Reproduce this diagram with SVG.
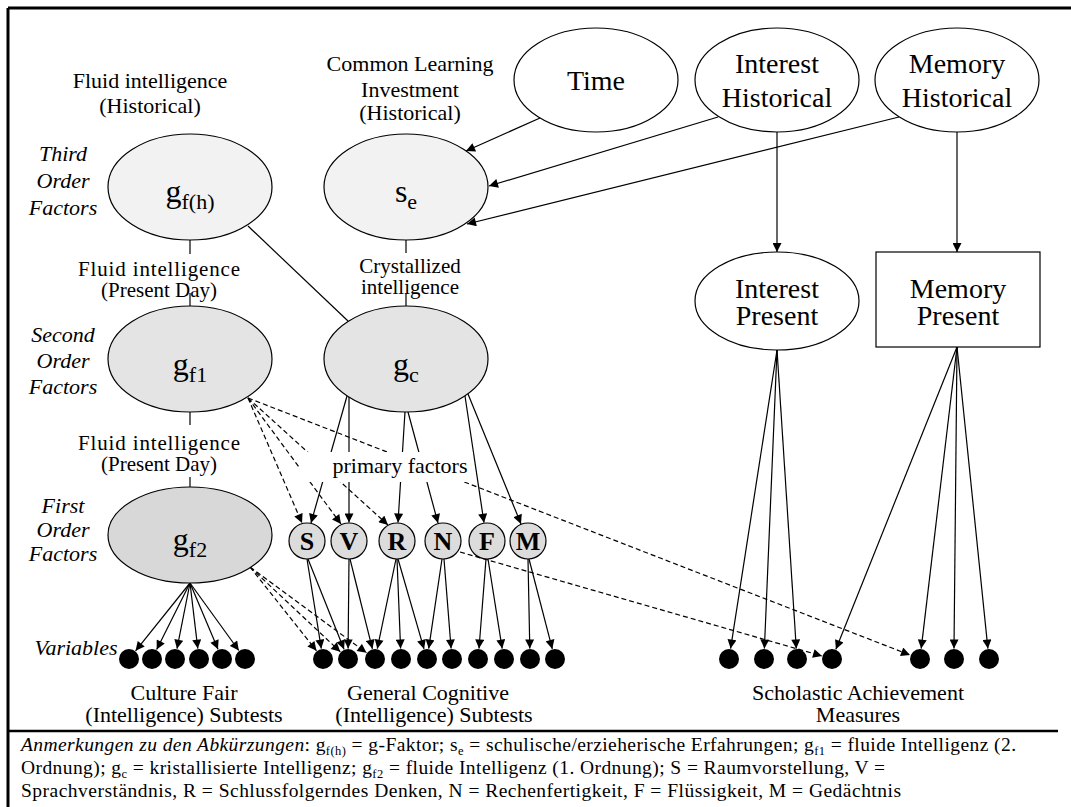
<svg xmlns="http://www.w3.org/2000/svg" width="1071" height="807" viewBox="0 0 1071 807" font-family="'Liberation Serif', 'DejaVu Serif', serif">
  <defs>
    <marker id="arrow" viewBox="0 0 10 10" refX="10" refY="5" markerWidth="10" markerHeight="9" markerUnits="userSpaceOnUse" orient="auto">
      <path d="M0,0 L10,5 L0,10 z" fill="#000"/>
    </marker>
  </defs>
  <style>
    text { font-family: 'Liberation Serif', 'DejaVu Serif', serif; fill: #000; }
    .lbl { font-size: 22px; text-anchor: middle; }
    .cap { font-size: 21px; text-anchor: middle; }
    .big { font-size: 28px; text-anchor: middle; }
    .ord { font-size: 22px; font-style: italic; text-anchor: middle; }
    .sym { text-anchor: middle; }
    .g { font-size: 32px; }
    .sub { font-size: 22px; }
    .pf { font-size: 26px; font-weight: bold; text-anchor: middle; }
    .note { font-size: 19.5px; }
    .nsub { font-size: 12.5px; }
    .node { stroke: #000; stroke-width: 1.2; }
    .light { fill: #f2f2f2; }
    .mid { fill: #e4e4e4; }
    .dark { fill: #d8d8d8; }
    .open { fill: #fff; }
    .circ { fill: #dcdcdc; }
    .dot { fill: #000; }
    .edge { stroke: #000; stroke-width: 1.2; fill: none; }
    .arr { marker-end: url(#arrow); }
    .dash { stroke-dasharray: 5 3; }
    .frame { stroke: #000; fill: none; }
  </style>

  <rect width="1071" height="807" fill="#fff"/>

  <!-- outer frame and footnote rule -->
  <g id="frame">
    <line class="frame" x1="8" y1="8" x2="1071" y2="8" stroke-width="3"/>
    <line class="frame" x1="8" y1="8" x2="8" y2="807" stroke-width="3"/>
    <line class="frame" x1="8" y1="731" x2="1058" y2="731" stroke-width="2.5"/>
  </g>

  <!-- connectors -->
  <g id="connectors">
    <!-- historical influences on s_e -->
    <line class="edge arr" x1="540" y1="118" x2="466" y2="151"/>
    <line class="edge arr" x1="718" y1="117" x2="489" y2="186"/>
    <line class="edge arr" x1="899" y1="117" x2="467" y2="224"/>
    <line class="edge arr" x1="777" y1="132" x2="777" y2="252"/>
    <line class="edge arr" x1="957" y1="132" x2="957" y2="252"/>
    <!-- short ticks between factor levels -->
    <line class="edge" x1="190" y1="240" x2="190" y2="254"/>
    <line class="edge" x1="190" y1="293" x2="190" y2="306"/>
    <line class="edge" x1="406" y1="240" x2="406" y2="253"/>
    <line class="edge" x1="406" y1="293" x2="406" y2="306"/>
    <line class="edge" x1="190" y1="412" x2="190" y2="425"/>
    <line class="edge" x1="190" y1="477" x2="190" y2="487"/>
    <!-- g_f(h) to g_c -->
    <line class="edge" x1="248" y1="226" x2="348" y2="321"/>
    <!-- g_f1 dashed loadings -->
    <line class="edge dash arr" x1="248" y1="398" x2="302" y2="523"/>
    <line class="edge dash arr" x1="248" y1="398" x2="341" y2="524"/>
    <line class="edge dash arr" x1="248" y1="398" x2="388" y2="525"/>
    <line class="edge dash arr" x1="248" y1="398" x2="910" y2="655"/>
    <!-- g_c to primary factors -->
    <line class="edge arr" x1="347" y1="396" x2="311" y2="523"/>
    <line class="edge arr" x1="349" y1="397" x2="349" y2="522.5"/>
    <line class="edge arr" x1="405" y1="412" x2="398" y2="522.5"/>
    <line class="edge arr" x1="408" y1="412" x2="438" y2="523"/>
    <line class="edge arr" x1="465" y1="396" x2="484" y2="522.7"/>
    <line class="edge arr" x1="468" y1="394" x2="521" y2="523.9"/>
    <!-- N dashed to scholastic measure -->
    <line class="edge dash arr" x1="460" y1="552" x2="822" y2="656"/>
    <!-- g_f2 to culture fair subtests -->
    <line class="edge arr" x1="190" y1="583" x2="135.6" y2="650.8"/>
    <line class="edge arr" x1="190" y1="583" x2="156.7" y2="649.6"/>
    <line class="edge arr" x1="190" y1="583" x2="177" y2="648.7"/>
    <line class="edge arr" x1="190" y1="583" x2="197.8" y2="648.6"/>
    <line class="edge arr" x1="190" y1="583" x2="218" y2="649.3"/>
    <line class="edge arr" x1="190" y1="583" x2="238.8" y2="650.5"/>
    <!-- g_f2 dashed to cognitive subtests -->
    <line class="edge dash arr" x1="250" y1="567" x2="316.5" y2="650.8"/>
    <line class="edge dash arr" x1="250" y1="567" x2="340.3" y2="651.8"/>
    <line class="edge dash arr" x1="250" y1="567" x2="366.5" y2="652.8"/>
    <!-- primary factors to cognitive subtests -->
    <line class="edge arr" x1="307" y1="559" x2="321.3" y2="648.6"/>
    <line class="edge arr" x1="308" y1="559" x2="344" y2="649.3"/>
    <line class="edge arr" x1="349" y1="559" x2="348.1" y2="648.5"/>
    <line class="edge arr" x1="350" y1="559" x2="372.4" y2="648.8"/>
    <line class="edge arr" x1="396" y1="559" x2="377.3" y2="648.7"/>
    <line class="edge arr" x1="397" y1="559" x2="400.6" y2="648.5"/>
    <line class="edge arr" x1="398" y1="559" x2="424" y2="648.9"/>
    <line class="edge arr" x1="442" y1="559" x2="428.7" y2="648.6"/>
    <line class="edge arr" x1="444" y1="559" x2="451.1" y2="648.5"/>
    <line class="edge arr" x1="486" y1="559" x2="479" y2="648.5"/>
    <line class="edge arr" x1="488" y1="559" x2="502.2" y2="648.6"/>
    <line class="edge arr" x1="528" y1="559" x2="529.8" y2="648.5"/>
    <line class="edge arr" x1="529" y1="559" x2="552.3" y2="648.9"/>
    <!-- interest present to measures -->
    <line class="edge arr" x1="777" y1="350" x2="730.6" y2="648.6"/>
    <line class="edge arr" x1="777" y1="350" x2="764.4" y2="648.5"/>
    <line class="edge arr" x1="777" y1="350" x2="796.3" y2="648.5"/>
    <!-- memory present to measures -->
    <line class="edge arr" x1="957" y1="347" x2="835.9" y2="649.2"/>
    <line class="edge arr" x1="957" y1="347" x2="921.2" y2="648.6"/>
    <line class="edge arr" x1="957" y1="347" x2="954" y2="648.5"/>
    <line class="edge arr" x1="957" y1="347" x2="987.9" y2="648.6"/>
  </g>

  <!-- row labels -->
  <g id="row-labels">
    <text class="ord" x="63" y="161">Third</text>
    <text class="ord" x="63" y="188">Order</text>
    <text class="ord" x="63" y="215">Factors</text>
    <text class="ord" x="63" y="342">Second</text>
    <text class="ord" x="63" y="368">Order</text>
    <text class="ord" x="63" y="394">Factors</text>
    <text class="ord" x="63" y="513">First</text>
    <text class="ord" x="63" y="537">Order</text>
    <text class="ord" x="63" y="561">Factors</text>
    <text class="ord" x="76" y="655">Variables</text>
  </g>

  <!-- factor captions -->
  <g id="captions">
    <text class="lbl" x="150" y="88">Fluid intelligence</text>
    <text class="lbl" x="150" y="113">(Historical)</text>
    <text class="lbl" x="410" y="71">Common Learning</text>
    <text class="lbl" x="410" y="97">Investment</text>
    <text class="lbl" x="410" y="120">(Historical)</text>
    <text class="cap" x="159" y="276" textLength="162">Fluid intelligence</text>
    <text class="cap" x="159" y="297">(Present Day)</text>
    <text class="cap" x="410" y="273">Crystallized</text>
    <text class="cap" x="410" y="294">intelligence</text>
    <text class="cap" x="159" y="450" textLength="162">Fluid intelligence</text>
    <text class="cap" x="159" y="471">(Present Day)</text>
  </g>

  <g id="node-gfh">
    <ellipse class="node light" cx="190" cy="187" rx="82" ry="53"/>
    <text class="sym" x="190" y="202"><tspan class="g">g</tspan><tspan class="sub" dy="7">f(h)</tspan></text>
  </g>
  <g id="node-se">
    <ellipse class="node light" cx="406" cy="187" rx="82" ry="53"/>
    <text class="sym" x="406" y="202"><tspan class="g">s</tspan><tspan class="sub" dy="7">e</tspan></text>
  </g>
  <g id="node-time">
    <ellipse class="node open" cx="596" cy="80" rx="82" ry="52"/>
    <text class="big" x="596" y="90">Time</text>
  </g>
  <g id="node-interest-historical">
    <ellipse class="node open" cx="777" cy="80" rx="82" ry="52"/>
    <text class="big" x="777" y="73">Interest</text>
    <text class="big" x="777" y="107">Historical</text>
  </g>
  <g id="node-memory-historical">
    <ellipse class="node open" cx="957" cy="80" rx="82" ry="52"/>
    <text class="big" x="957" y="73">Memory</text>
    <text class="big" x="957" y="107">Historical</text>
  </g>
  <g id="node-interest-present">
    <ellipse class="node open" cx="777" cy="301" rx="82" ry="49"/>
    <text class="big" x="777" y="298">Interest</text>
    <text class="big" x="777" y="325">Present</text>
  </g>
  <g id="node-memory-present">
    <rect class="node open" x="876" y="252" width="164" height="95"/>
    <text class="big" x="958" y="298">Memory</text>
    <text class="big" x="958" y="325">Present</text>
  </g>
  <g id="node-gf1">
    <ellipse class="node mid" cx="190" cy="359" rx="82" ry="53"/>
    <text class="sym" x="190" y="375"><tspan class="g">g</tspan><tspan class="sub" dy="7">f1</tspan></text>
  </g>
  <g id="node-gc">
    <ellipse class="node mid" cx="406" cy="359" rx="82" ry="53"/>
    <text class="sym" x="406" y="375"><tspan class="g">g</tspan><tspan class="sub" dy="7">c</tspan></text>
  </g>
  <g id="node-gf2">
    <ellipse class="node dark" cx="190" cy="535" rx="82" ry="48"/>
    <text class="sym" x="190" y="550"><tspan class="g">g</tspan><tspan class="sub" dy="7">f2</tspan></text>
  </g>

  <g id="label-primary">
    <rect x="300" y="452" width="173" height="30" fill="#fff"/>
    <text class="lbl" x="400" y="473">primary factors</text>
  </g>

  <g id="node-S"><circle class="node circ" cx="307" cy="541" r="18"/><text class="pf" x="307" y="550">S</text></g>
  <g id="node-V"><circle class="node circ" cx="349" cy="541" r="18"/><text class="pf" x="349" y="550">V</text></g>
  <g id="node-R"><circle class="node circ" cx="397" cy="541" r="18"/><text class="pf" x="397" y="550">R</text></g>
  <g id="node-N"><circle class="node circ" cx="443" cy="541" r="18"/><text class="pf" x="443" y="550">N</text></g>
  <g id="node-F"><circle class="node circ" cx="487" cy="541" r="18"/><text class="pf" x="487" y="550">F</text></g>
  <g id="node-M"><circle class="node circ" cx="528" cy="541" r="18"/><text class="pf" x="528" y="550">M</text></g>

  <g id="vars-culture-fair">
    <circle class="dot" cx="129" cy="659" r="10"/>
    <circle class="dot" cx="152" cy="659" r="10"/>
    <circle class="dot" cx="175" cy="659" r="10"/>
    <circle class="dot" cx="199" cy="659" r="10"/>
    <circle class="dot" cx="222" cy="659" r="10"/>
    <circle class="dot" cx="245" cy="659" r="10"/>
    <text class="lbl" x="184" y="700">Culture Fair</text>
    <text class="lbl" x="184" y="722">(Intelligence) Subtests</text>
  </g>
  <g id="vars-general-cognitive">
    <circle class="dot" cx="323" cy="659" r="10"/>
    <circle class="dot" cx="348" cy="659" r="10"/>
    <circle class="dot" cx="375" cy="659" r="10"/>
    <circle class="dot" cx="401" cy="659" r="10"/>
    <circle class="dot" cx="427" cy="659" r="10"/>
    <circle class="dot" cx="452" cy="659" r="10"/>
    <circle class="dot" cx="478" cy="659" r="10"/>
    <circle class="dot" cx="504" cy="659" r="10"/>
    <circle class="dot" cx="530" cy="659" r="10"/>
    <circle class="dot" cx="555" cy="659" r="10"/>
    <text class="lbl" x="428" y="700">General Cognitive</text>
    <text class="lbl" x="434" y="722">(Intelligence) Subtests</text>
  </g>
  <g id="vars-scholastic">
    <circle class="dot" cx="729" cy="659" r="10"/>
    <circle class="dot" cx="764" cy="659" r="10"/>
    <circle class="dot" cx="797" cy="659" r="10"/>
    <circle class="dot" cx="832" cy="659" r="10"/>
    <circle class="dot" cx="920" cy="659" r="10"/>
    <circle class="dot" cx="954" cy="659" r="10"/>
    <circle class="dot" cx="989" cy="659" r="10"/>
    <text class="lbl" x="858" y="700">Scholastic Achievement</text>
    <text class="lbl" x="858" y="722">Measures</text>
  </g>

  <!-- abbreviation notes -->
  <g id="notes">
    <text class="note" x="21" y="751" textLength="995"><tspan font-style="italic">Anmerkungen zu den Abkürzungen</tspan>: g<tspan class="nsub" dy="4">f(h)</tspan><tspan dy="-4"> = g-Faktor; s</tspan><tspan class="nsub" dy="4">e</tspan><tspan dy="-4"> = schulische/erzieherische Erfahrungen; g</tspan><tspan class="nsub" dy="4">f1</tspan><tspan dy="-4"> = fluide Intelligenz (2.</tspan></text>
    <text class="note" x="21" y="774" textLength="864"><tspan>Ordnung); g</tspan><tspan class="nsub" dy="4">c</tspan><tspan dy="-4"> =  kristallisierte Intelligenz; g</tspan><tspan class="nsub" dy="4">f2</tspan><tspan dy="-4"> = fluide Intelligenz (1. Ordnung); S = Raumvorstellung, V =</tspan></text>
    <text class="note" x="21" y="797" textLength="880">Sprachverständnis, R = Schlussfolgerndes Denken, N = Rechenfertigkeit, F = Flüssigkeit, M = Gedächtnis</text>
  </g>
</svg>
